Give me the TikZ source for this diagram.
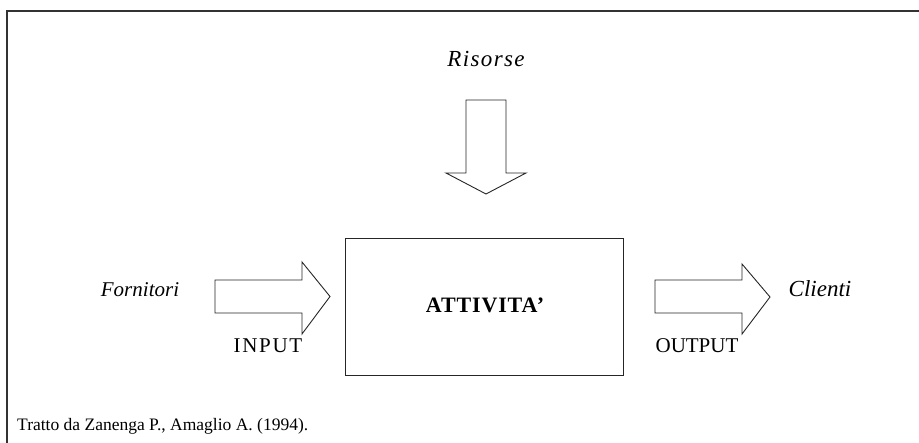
\documentclass[tikz,border=0pt]{standalone}
\usepackage{fontspec}
\setmainfont{Liberation Serif}
\begin{document}
\begin{tikzpicture}[x=1pt,y=-1pt,
  frame/.style={line width=1.2pt,draw=black!80},
  blockarrow/.style={draw=black!85,line width=0.9pt,fill=white,line join=miter},
  boxstyle/.style={draw=black!85,line width=1pt},
  ital/.style={font=\fontsize{23}{23}\itshape\selectfont,inner sep=0pt,anchor=base},
  caps/.style={font=\fontsize{21}{21}\selectfont,inner sep=0pt,anchor=base},
]
\useasboundingbox (0,0) rectangle (919,443);
% frame
\draw[frame] (7,443) -- (7,11) -- (919,11);
% Risorse
\node[ital,font=\fontsize{23}{23}\itshape\addfontfeature{LetterSpace=6}\selectfont] (ris) at (486,67) {Risorse};
% down arrow
\draw[blockarrow] (466,100) -- (506,100) -- (506,173) -- (526,173) -- (486,194) -- (446,173) -- (466,173) -- cycle;
% main box
\node[boxstyle,minimum width=278pt,minimum height=137pt,inner sep=0pt] (box) at (484,307.5) {};
\node[font=\fontsize{22}{22}\bfseries\addfontfeature{LetterSpace=4}\selectfont,inner sep=0pt,anchor=base] (att) at (485,313) {ATTIVITA'};
% input arrow
\draw[blockarrow] (215,280) -- (302,280) -- (302,262) -- (330,296.5) -- (302,334) -- (302,313) -- (215,313) -- cycle;
% output arrow
\draw[blockarrow] (655,280) -- (742,280) -- (742,264) -- (770,297) -- (742,334) -- (742,313) -- (655,313) -- cycle;
% labels
\node[ital,font=\fontsize{21}{21}\itshape\selectfont] (forn) at (140,297) {Fornitori};
\node[ital] (cli) at (820,297) {Clienti};
\node[caps,font=\fontsize{21}{21}\addfontfeature{LetterSpace=8}\selectfont] (inp) at (268,353) {INPUT};
\node[caps] (outp) at (697,353) {OUTPUT};
% caption
\node[font=\fontsize{17.5}{17.5}\selectfont,inner sep=0pt,anchor=base west] (cap) at (17,431) {Tratto da Zanenga P., Amaglio A. (1994).};
\end{tikzpicture}
\end{document}
